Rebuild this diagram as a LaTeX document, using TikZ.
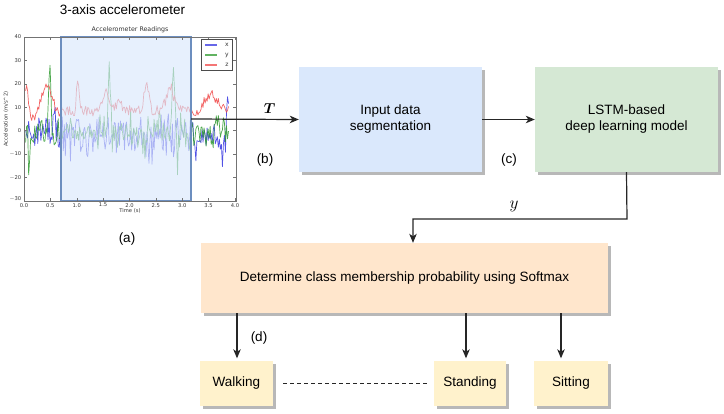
\documentclass[tikz,border=0pt]{standalone}
\usepackage{fontspec}
\setmainfont{Liberation Sans}
\newfontfamily\plotfont{DejaVu Sans}
\usepackage{bm}
\usetikzlibrary{arrows.meta,shadows}
\definecolor{bluebox}{HTML}{DAE8FC}
\definecolor{greenbox}{HTML}{D5E8D4}
\definecolor{orangebox}{HTML}{FFE6CC}
\definecolor{yellowbox}{HTML}{FFF2CC}
\definecolor{hlborder}{HTML}{6C8EBF}
\definecolor{sigx}{HTML}{3434E0}
\definecolor{sigy}{HTML}{2E9A2E}
\definecolor{sigz}{HTML}{F04848}
\tikzset{
  flowbox/.style={fill=#1, draw=none, align=center, inner sep=2pt,
    drop shadow={shadow xshift=2.5pt, shadow yshift=-2.5pt, opacity=0.28, fill=black}},
  arr/.style={draw=black!85, line width=1.2pt, -{Stealth[length=9pt,width=7.5pt,inset=2.5pt]}},
  tinytext/.style={font=\plotfont\fontsize{5.2}{6}\selectfont, text=black!80, inner sep=0.5pt},
  sig/.style={line width=0.7pt, opacity=0.85, line join=round},
  lbl/.style={inner sep=1pt},
}
\begin{document}
\begin{tikzpicture}[x=1pt,y=-1pt,font=\fontsize{13.5}{16}\selectfont]
\useasboundingbox (0,0) rectangle (724,413);

% ---------- accelerometer plot ----------
\node[anchor=base] (title) at (122.5,14) {3-axis accelerometer};
\node[tinytext, font=\plotfont\fontsize{6.3}{7}\selectfont] (ptitle) at (130,30) {Accelerometer Readings};

\begin{scope}
  \clip (24,37) rectangle (236,201);
  \begin{scope}[shift={(24,130.7)}, x=52.75pt, y=2.343pt]
    \pgfmathsetseed{11}
    \draw[sig, sigx] plot[domain=0.03:3.88, samples=200]
      (\x, {-1.5 + 5*rand + 11*rand^3 + 14*max(0,1-abs(\x-0.55)/0.03) + 8*max(0,1-abs(\x-0.48)/0.03) - 12*max(0,1-abs(\x-1.2)/0.025) - 8*max(0,1-abs(\x-0.15)/0.04) + 22*max(0,1-abs(\x-3.86)/0.03) - 16*max(0,1-abs(\x-3.76)/0.03)});
    \pgfmathsetseed{23}
    \draw[sig, sigy] plot[domain=0.03:3.88, samples=200]
      (\x, {-1 + 3.5*rand + 8*rand^3 + 33*max(0,1-abs(\x-0.49)/0.05) + 37*max(0,1-abs(\x-1.62)/0.045) + 31*max(0,1-abs(\x-2.83)/0.05) - 13*max(0,1-abs(\x-0.1)/0.04) - 17*max(0,1-abs(\x-2.91)/0.025) + 10*max(0,1-abs(\x-3.65)/0.05)});
    \pgfmathsetseed{5}
    \draw[sig, sigz] plot[domain=0.03:3.88, samples=200]
      (\x, {8.5 + 2.3*rand + 13*max(0,1-abs(\x-0.05)/0.06) - 4*max(0,1-abs(\x-0.17)/0.08) + 11*max(0,1-abs(\x-0.43)/0.2) + 14*max(0,1-abs(\x-1.02)/0.05) + 10*max(0,1-abs(\x-1.55)/0.12) + 5*max(0,1-abs(\x-1.8)/0.12) + 13*max(0,1-abs(\x-2.33)/0.1) + 11*max(0,1-abs(\x-2.77)/0.15) + 8*max(0,1-abs(\x-3.55)/0.25)});
  \end{scope}
\end{scope}

% highlight window
\fill[bluebox, opacity=0.65] (61,37) rectangle (191,201);
\draw[hlborder, line width=1.4pt] (61,37) rectangle (191,201);
\coordinate (hlr) at (191,119);

% axes frame and ticks
\draw[black!55, line width=0.8pt] (24,37) rectangle (236,201);
\foreach \v [count=\i] in {40,30,20,10,0,-10,-20,-30} {
  \pgfmathsetmacro{\yy}{37+(40-\v)*2.343}
  \draw[black!55, line width=0.5pt] (24,\yy) -- ++(3,0) (236,\yy) -- ++(-3,0);
}
\node[tinytext, anchor=east] (yt1) at (22,37) {40};
\node[tinytext, anchor=east] (yt2) at (22,60.4) {30};
\node[tinytext, anchor=east] (yt3) at (22,83.9) {20};
\node[tinytext, anchor=east] (yt4) at (22,107.3) {10};
\node[tinytext, anchor=east] (yt5) at (22,130.7) {0};
\node[tinytext, anchor=east] (yt6) at (22,154.1) {$-$10};
\node[tinytext, anchor=east] (yt7) at (22,177.6) {$-$20};
\node[tinytext, anchor=east] (yt8) at (22,199) {$-$30};
\foreach \t/\lab [count=\i] in {0/0.0,0.5/0.5,1/1.0,1.5/1.5,2/2.0,2.5/2.5,3/3.0,3.5/3.5,4/4.0} {
  \pgfmathsetmacro{\xx}{24+\t*52.75}
  \draw[black!55, line width=0.5pt] (\xx,201) -- ++(0,-3) (\xx,37) -- ++(0,3);
  \node[tinytext, anchor=north] (xt\i) at (\xx,202.5) {\lab};
}
\node[tinytext] (xlab) at (130,211) {Time (s)};
\node[tinytext, rotate=90] (ylab) at (6,119) {Acceleration (m/s\^{}2)};

% legend
\draw[black!70, fill=white, line width=0.5pt] (201,39) rectangle (232.5,70);
\draw[sigx!75, line width=1.3pt] (205,45) -- (217,45);
\draw[sigy!75, line width=1.3pt] (205,55) -- (217,55);
\draw[sigz!75, line width=1.3pt] (205,65) -- (217,65);
\node[tinytext, font=\plotfont\fontsize{6}{7}\selectfont] (lgx) at (227,45) {x};
\node[tinytext, font=\plotfont\fontsize{6}{7}\selectfont] (lgy) at (227,55) {y};
\node[tinytext, font=\plotfont\fontsize{6}{7}\selectfont] (lgz) at (227,65) {z};

\node[lbl] (la) at (127,239) {(a)};

% ---------- flow boxes ----------
\node[flowbox=bluebox, minimum width=183pt, minimum height=105pt] (inp) at (390.5,119.5) {Input data\\segmentation};
\node[flowbox=greenbox, minimum width=183pt, minimum height=105pt] (lstm) at (626.5,119.5) {LSTM-based\\deep learning model};
\node[flowbox=orangebox, minimum width=407pt, minimum height=70pt] (soft) at (404.5,278) {Determine class membership probability using Softmax};
\node[flowbox=yellowbox, minimum width=73pt, minimum height=45pt] (walk) at (236.5,383.5) {Walking};
\node[flowbox=yellowbox, minimum width=72pt, minimum height=45pt] (stand) at (470,383.5) {Standing};
\node[flowbox=yellowbox, minimum width=74pt, minimum height=45pt] (sit) at (571,383.5) {Sitting};

% ---------- connectors ----------
\draw[arr] (hlr) -- (inp.west) node[pos=0.73, above=2pt, font=\fontsize{15}{16}\selectfont] (tlab) {$\bm{T}$};
\node[lbl] (lb) at (265,160) {(b)};
\draw[arr] (inp.east) -- (lstm.west);
\node[lbl] (lc) at (509,160) {(c)};

\coordinate (ybend) at (627,219);
\coordinate (ytarget) at (413,0);
\draw[arr] (lstm.south) -- (ybend) -- (ybend -| ytarget) -- (soft.north -| ytarget);
\node[font=\fontsize{16}{16}\selectfont] (ylab2) at (514,206) {$y$};

\coordinate (sx1) at (237,0);
\coordinate (sx2) at (466,0);
\coordinate (sx3) at (561,0);
\draw[arr] (soft.south -| sx1) -- ([yshift=2.5pt]walk.north -| sx1);
\draw[arr] (soft.south -| sx2) -- ([yshift=2.5pt]stand.north -| sx2);
\draw[arr] (soft.south -| sx3) -- ([yshift=2.5pt]sit.north -| sx3);
\node[lbl] (ld) at (259,338) {(d)};

\draw[black!85, line width=0.9pt, dash pattern=on 4pt off 3pt, shorten <=10pt, shorten >=6pt] (walk.east) -- (stand.west);
\end{tikzpicture}
\end{document}
